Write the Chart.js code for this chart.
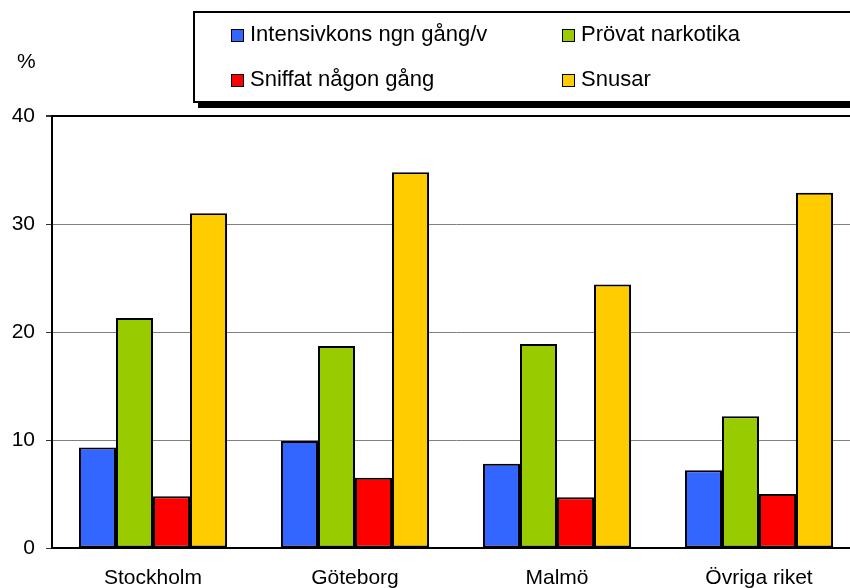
<!DOCTYPE html>
<html lang="sv">
<head>
<meta charset="utf-8">
<script src="https://cdn.jsdelivr.net/npm/chart.js@4/dist/chart.umd.min.js"></script>
<style>
  html, body { margin: 0; padding: 0; background: #fff; overflow: hidden; width: 850px; height: 588px; }
  body { position: relative; font-family: "Liberation Sans", Arial, Helvetica, sans-serif; }
  #wrap { position: absolute; left: 0; top: 0; width: 862px; height: 588px; }
  #enhet { position: absolute; left: 17px; top: 49px; font-size: 21px; color: #000; }
  #legend {
    position: absolute; left: 193px; top: 11px; width: 720px; height: 88px;
    border: 2px solid #000; background: #fff; box-shadow: 5px 5px 0 #000;
  }
  .item { position: absolute; font-size: 22px; line-height: 24px; color: #000; white-space: nowrap; }
  .item i {
    display: inline-block; width: 11px; height: 11px; border: 1.5px solid #000;
    margin-right: 6px; vertical-align: -1px;
  }
</style>
</head>
<body>
<div id="wrap"><canvas id="grafico"></canvas></div>
<div id="enhet">%</div>
<div id="legend"></div>
<script>
// Andel elever (%) per region
const regioner = ['Stockholm', 'Göteborg', 'Malmö', 'Övriga riket'];
const serier = ['Intensivkons ngn gång/v', 'Prövat narkotika', 'Sniffat någon gång', 'Snusar'];
const intensivkons = [9.3, 9.9, 7.8, 7.2];
const provatNarkotika = [21.3, 18.7, 18.9, 12.2];
const sniffat = [4.8, 6.5, 4.7, 5.0];
const snusar = [31.0, 34.8, 24.4, 32.9];
const yTicks = [0, 10, 20, 30, 40];

const farger = ['#3366ff', '#99cc00', '#ff0000', '#ffcc00'];
const varden = [intensivkons, provatNarkotika, sniffat, snusar];

const dados = {
    labels: regioner,
    datasets: serier.map((namn, i) => ({
        label: namn,
        data: varden[i],
        backgroundColor: farger[i],
        borderColor: '#000',
        borderWidth: 2,
        borderSkipped: false,
        barPercentage: 1,
        categoryPercentage: 0.733
    }))
};

// Legend i en ram med skugga, två kolumner
const legend = document.getElementById('legend');
serier.forEach((namn, i) => {
    const el = document.createElement('div');
    el.className = 'item';
    el.style.left = (231 - 195 + (i % 2) * 331) + 'px';
    el.style.top = (22 - 13 + Math.floor(i / 2) * 45) + 'px';
    el.innerHTML = '<i style="background:' + farger[i] + '"></i>' + namn;
    legend.appendChild(el);
});

const fontFamilj = '"Liberation Sans", Arial, Helvetica, sans-serif';

const config = {
    type: 'bar',
    data: dados,
    options: {
        responsive: true,
        maintainAspectRatio: false,
        animation: false,
        layout: { padding: { top: 116, right: 2, left: 0, bottom: 0 } },
        plugins: { legend: { display: false }, tooltip: { enabled: false } },
        scales: {
            x: {
                grid: { display: false, drawTicks: false },
                border: { color: '#000', width: 2 },
                ticks: { color: '#000', font: { family: fontFamilj, size: 21 }, padding: 18, maxRotation: 0 },
                afterFit: (scale) => { scale.height = 40; }
            },
            y: {
                min: 0,
                max: 40,
                afterBuildTicks: (scale) => { scale.ticks = yTicks.map(v => ({ value: v })); },
                grid: {
                    color: (c) => (c.tick && c.tick.value === 40) ? '#000' : '#808080',
                    tickColor: '#333',
                    tickLength: 6,
                    lineWidth: (c) => (c.tick && c.tick.value === 40) ? 2 : 1
                },
                border: { color: '#000', width: 2 },
                ticks: { color: '#000', font: { family: fontFamilj, size: 21 }, padding: 11 },
                afterFit: (scale) => { scale.width = 52; }
            }
        }
    }
};

const ctx = document.getElementById('grafico').getContext('2d');
const grafico = new Chart(ctx, config);
</script>
</body>
</html>
